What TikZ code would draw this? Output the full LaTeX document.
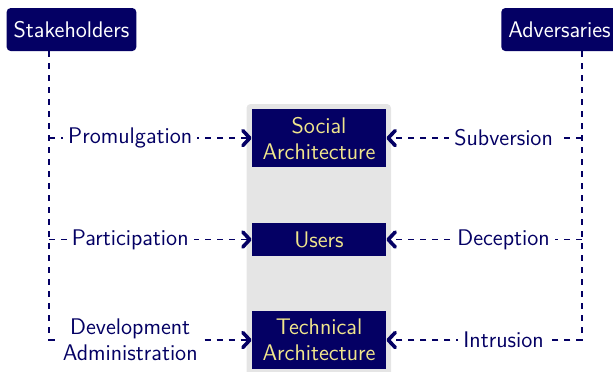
\documentclass[tikz,border=0pt]{standalone}
\usetikzlibrary{arrows.meta}
\definecolor{navy}{RGB}{4,0,100}
\definecolor{khaki}{RGB}{240,230,140}
\begin{document}
\begin{tikzpicture}[
    font=\sffamily\fontsize{11.3}{13}\selectfont,
    actor/.style={fill=navy, text=white, rounded corners=2pt, inner xsep=3.5pt, minimum height=21.5pt},
    part/.style={fill=navy, text=khaki, minimum width=67pt, inner ysep=4pt, align=center},
    link/.style={navy, dashed, line width=0.8pt},
    push/.style={link, -{Straight Barb[length=3.5pt,width=7.5pt,line width=1.8pt,round]}},
    act/.style={fill=white, text=navy, inner sep=2.5pt, pos=0.4, align=center},
  ]
  \useasboundingbox (0, 0) rectangle (10.772, 6.520);
  \fill [black!10, rounded corners=2pt] (4.332, -0.1) rectangle (6.871, 4.692);

  \node [actor] (stake) at (1.256, 6.001) {Stakeholders};
  \node [actor] (adv) at (9.832, 6.001) {Adversaries};

  \node [part] (social) at (5.606, 4.094) {Social\\Architecture};
  \node [part] (users) at (5.606, 2.311) {Users};
  \node [part] (tech) at (5.606, 0.545) {Technical\\Architecture};

  \coordinate (sl) at (0.866, 0.545);
  \coordinate (al) at (10.222, 0.545);

  % stakeholders side
  \draw [push] (stake.south -| sl) -- (sl) -- node [act] {Development\\Administration} (tech);
  \draw [push] (social.west -| sl) -- node [act] {Promulgation} (social);
  \draw [push] (users.west -| sl) -- node [act] {Participation} (users);

  % adversaries side
  \draw [push] (adv.south -| al) -- (al) -- node [act] {Intrusion} (tech);
  \draw [push] (social.east -| al) -- node [act] {Subversion} (social);
  \draw [push] (users.east -| al) -- node [act] {Deception} (users);
\end{tikzpicture}
\end{document}
